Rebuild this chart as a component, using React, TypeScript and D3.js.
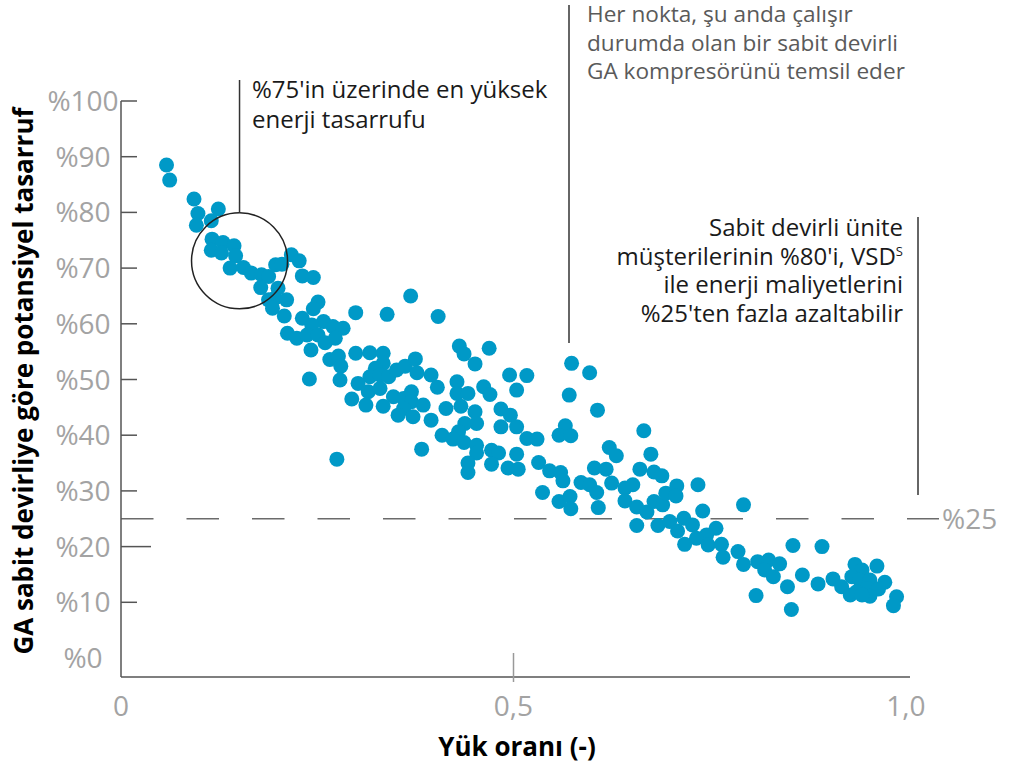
import React from 'react';
import * as d3 from 'd3';

// Load ratio (x) and potential saving in % (y) for each fixed speed GA unit
const loadRatio = [
  0.058, 0.062, 0.093, 0.098, 0.096, 0.124, 0.115, 0.116, 0.115, 0.13,
  0.128, 0.144, 0.146, 0.139, 0.156, 0.166, 0.179, 0.188, 0.178, 0.197,
  0.205, 0.217, 0.227, 0.231, 0.245, 0.2, 0.196, 0.188, 0.193, 0.299,
  0.211, 0.251, 0.245, 0.208, 0.231, 0.258, 0.243, 0.27, 0.283, 0.212,
  0.224, 0.237, 0.251, 0.26, 0.273, 0.242, 0.266, 0.277, 0.28, 0.24,
  0.279, 0.339, 0.369, 0.404, 0.299, 0.317, 0.334, 0.334, 0.324, 0.317,
  0.33, 0.341, 0.351, 0.362, 0.375, 0.377, 0.395, 0.302, 0.315, 0.33,
  0.294, 0.312, 0.334, 0.347, 0.36, 0.37, 0.37, 0.36, 0.353, 0.372,
  0.385, 0.403, 0.395, 0.414, 0.431, 0.437, 0.451, 0.469, 0.428, 0.428,
  0.442, 0.433, 0.451, 0.453, 0.438, 0.43, 0.409, 0.423, 0.437, 0.453,
  0.453, 0.442, 0.442, 0.383, 0.275, 0.462, 0.47, 0.495, 0.517, 0.504,
  0.484, 0.496, 0.484, 0.504, 0.517, 0.53, 0.472, 0.481, 0.504, 0.472,
  0.493, 0.506, 0.532,
  0.574, 0.597, 0.571, 0.607, 0.566, 0.558, 0.573, 0.546, 0.56, 0.563,
  0.537, 0.558, 0.572, 0.573, 0.586, 0.597, 0.606, 0.608, 0.603, 0.618,
  0.622, 0.631, 0.625, 0.642, 0.652, 0.642, 0.657, 0.67, 0.657, 0.666,
  0.675, 0.661, 0.679, 0.689, 0.679, 0.69, 0.694, 0.708, 0.707, 0.684,
  0.699, 0.709, 0.717, 0.728, 0.735, 0.741, 0.758, 0.746, 0.733, 0.718,
  0.748, 0.765, 0.786, 0.793,
  0.767, 0.793, 0.811, 0.825, 0.839, 0.82, 0.831, 0.856, 0.893, 0.868,
  0.849, 0.888, 0.809, 0.854, 0.907, 0.918, 0.929, 0.935, 0.963, 0.944,
  0.931, 0.941, 0.954, 0.973, 0.95, 0.965, 0.937, 0.954, 0.944, 0.988, 0.984,
];

const savingPct = [
  88.5, 85.8, 82.4, 79.8, 77.7, 80.6, 78.5, 75.2, 73.2, 74.6,
  72.7, 74.0, 72.2, 70.0, 70.1, 69.1, 68.8, 68.5, 66.5, 70.6,
  70.7, 72.4, 71.3, 68.6, 68.3, 66.4, 64.6, 64.3, 62.8, 62.0,
  64.3, 63.9, 62.7, 61.4, 61.0, 60.4, 59.8, 59.5, 59.2, 58.3,
  57.4, 58.0, 58.0, 56.6, 57.4, 55.3, 53.6, 54.2, 52.4, 50.1,
  49.9, 61.7, 65.0, 61.3, 54.7, 54.8, 54.7, 52.9, 52.0, 50.5,
  50.8, 50.5, 51.7, 52.4, 53.7, 51.2, 50.8, 49.3, 47.8, 48.4,
  46.5, 45.4, 45.2, 46.9, 46.6, 47.8, 46.0, 44.8, 43.6, 43.3,
  45.4, 48.6, 42.7, 44.8, 56.0, 54.6, 52.8, 55.6, 49.6, 47.5,
  47.5, 45.2, 44.2, 42.1, 42.1, 40.6, 40.0, 39.3, 38.7, 38.2,
  36.8, 35.0, 33.3, 37.5, 35.7, 48.7, 47.3, 50.8, 50.7, 48.1,
  44.7, 43.6, 41.5, 41.5, 39.4, 39.3, 37.3, 36.8, 36.6, 34.8,
  34.1, 33.9, 35.1,
  52.9, 51.2, 47.2, 44.5, 41.7, 40.0, 39.9, 33.6, 33.3, 31.8,
  29.7, 28.1, 29.0, 26.8, 31.5, 31.1, 29.7, 27.0, 34.1, 33.9,
  37.8, 36.3, 31.4, 30.5, 31.1, 28.2, 27.1, 26.2, 23.8, 40.8,
  36.6, 33.9, 33.4, 32.7, 28.1, 27.5, 29.6, 30.9, 29.1, 23.8,
  24.5, 22.8, 25.1, 23.9, 31.1, 26.4, 23.3, 22.1, 21.5, 20.4,
  20.3, 20.4, 19.1, 27.5,
  18.1, 16.8, 17.3, 17.6, 16.9, 15.8, 14.6, 20.2, 20.0, 14.9,
  12.8, 13.3, 11.2, 8.7, 14.2, 12.8, 11.3, 16.8, 16.5, 15.8,
  14.6, 14.0, 14.0, 13.6, 12.5, 12.4, 11.9, 11.1, 11.3, 11.0, 9.4,
];

const yTicks = [0, 10, 20, 30, 40, 50, 60, 70, 80, 90, 100];
const xTicks = [0, 0.5, 1.0];
const xTickLabels = ['0', '0,5', '1,0'];
const threshold = 25;
const highlight = {load: 0.151, saving: 71.3};

const noteLines = ['Her nokta, şu anda çalışır', 'durumda olan bir sabit devirli', 'GA kompresörünü temsil eder'];

const FONT = '"Open Sans", "Noto Sans", sans-serif';
const DOT = '#0099c7';
const GREY = '#a3a3a3';

export default function App() {
  const width = 1016;
  const height = 764;

  const x = d3.scaleLinear().domain([0, 1]).range([121, 906]);
  const y = d3.scaleLinear().domain([0, 100]).range([658, 101]);
  const axisBottom = y(0) + 19;
  const axisLeft = x(0);

  const points = loadRatio.map((l, i) => ({load: l, saving: savingPct[i]}));
  const fmtY = (v: number) => `%${v}`;

  const circleX = x(highlight.load);
  const circleY = y(highlight.saving);
  const circleR = 48;

  return (
    <svg
      width={width}
      height={height}
      style={{position: 'absolute', left: 0, top: 0, background: '#fff'}}
      fontFamily={FONT}
    >
      {/* threshold dashed line */}
      <line
        x1={axisLeft}
        x2={939}
        y1={y(threshold)}
        y2={y(threshold)}
        stroke="#6b6b6b"
        strokeWidth={1.6}
        strokeDasharray="32.5 33"
      />
      <text x={942} y={y(threshold)} dy="0.36em" fontSize={28} fill={GREY}>
        {fmtY(threshold)}
      </text>

      {/* axes */}
      <line x1={axisLeft} x2={axisLeft} y1={y(100)} y2={axisBottom} stroke="#555" strokeWidth={1.5} />
      <line x1={axisLeft} x2={910} y1={axisBottom} y2={axisBottom} stroke="#555" strokeWidth={1.5} />
      {yTicks.map((t) => (
        <g key={t}>
          {t > 0 && (
            <line
              x1={axisLeft}
              x2={axisLeft + (t === 20 ? 30 : 16)}
              y1={y(t)}
              y2={y(t)}
              stroke="#555"
              strokeWidth={1.5}
            />
          )}
          <text x={83} y={y(t)} dy="0.36em" textAnchor="middle" fontSize={28} fill={GREY}>
            {fmtY(t)}
          </text>
        </g>
      ))}
      <line x1={x(0.5)} x2={x(0.5)} y1={653} y2={682} stroke="#999" strokeWidth={1.5} />
      {xTicks.map((t, i) => (
        <text key={t} x={x(t)} y={706} dy="0.36em" textAnchor="middle" fontSize={28} fill={GREY}>
          {xTickLabels[i]}
        </text>
      ))}

      {/* axis titles */}
      <text
        transform={`translate(33,${(y(100) + axisBottom) / 2 - 8}) rotate(-90)`}
        textAnchor="middle"
        fontSize={26}
        fontWeight={700}
        fill="#000"
      >
        GA sabit devirliye göre potansiyel tasarruf
      </text>
      <text x={517} y={756} textAnchor="middle" fontSize={26} fontWeight={700} fill="#000">
        Yük oranı (-)
      </text>

      {/* dots */}
      {points.map((p, i) => (
        <circle key={i} cx={x(p.load)} cy={y(p.saving)} r={7.5} fill={DOT} />
      ))}

      {/* highlight annotation */}
      <circle cx={circleX} cy={circleY} r={circleR} fill="none" stroke="#222" strokeWidth={1.5} />
      <line x1={circleX} x2={circleX} y1={80} y2={circleY - circleR} stroke="#333" strokeWidth={1.5} />
      <text x={252} y={98} fontSize={24} fill="#1a1a1a">
        %75'in üzerinde en yüksek
      </text>
      <text x={252} y={128} fontSize={24} fill="#1a1a1a">
        enerji tasarrufu
      </text>

      {/* point note */}
      <line x1={569} x2={569} y1={5} y2={343} stroke="#333" strokeWidth={1.5} />
      {noteLines.map((s, i) => (
        <text key={s} x={587} y={22 + i * 28.7} fontSize={22.6} fill="#5a5a5a">
          {s}
        </text>
      ))}

      {/* VSD note */}
      <line x1={918} x2={918} y1={217} y2={495} stroke="#333" strokeWidth={1.5} />
      <text x={903} y={236} textAnchor="end" fontSize={24} fill="#1a1a1a">
        Sabit devirli ünite
      </text>
      <text x={903} y={264.7} textAnchor="end" fontSize={24} fill="#1a1a1a">
        müşterilerinin %80'i, VSD
        <tspan fontSize={13} dy={-9}>
          S
        </tspan>
      </text>
      <text x={903} y={293.4} textAnchor="end" fontSize={24} fill="#1a1a1a">
        ile enerji maliyetlerini
      </text>
      <text x={903} y={322} textAnchor="end" fontSize={24} fill="#1a1a1a">
        %25'ten fazla azaltabilir
      </text>
    </svg>
  );
}
